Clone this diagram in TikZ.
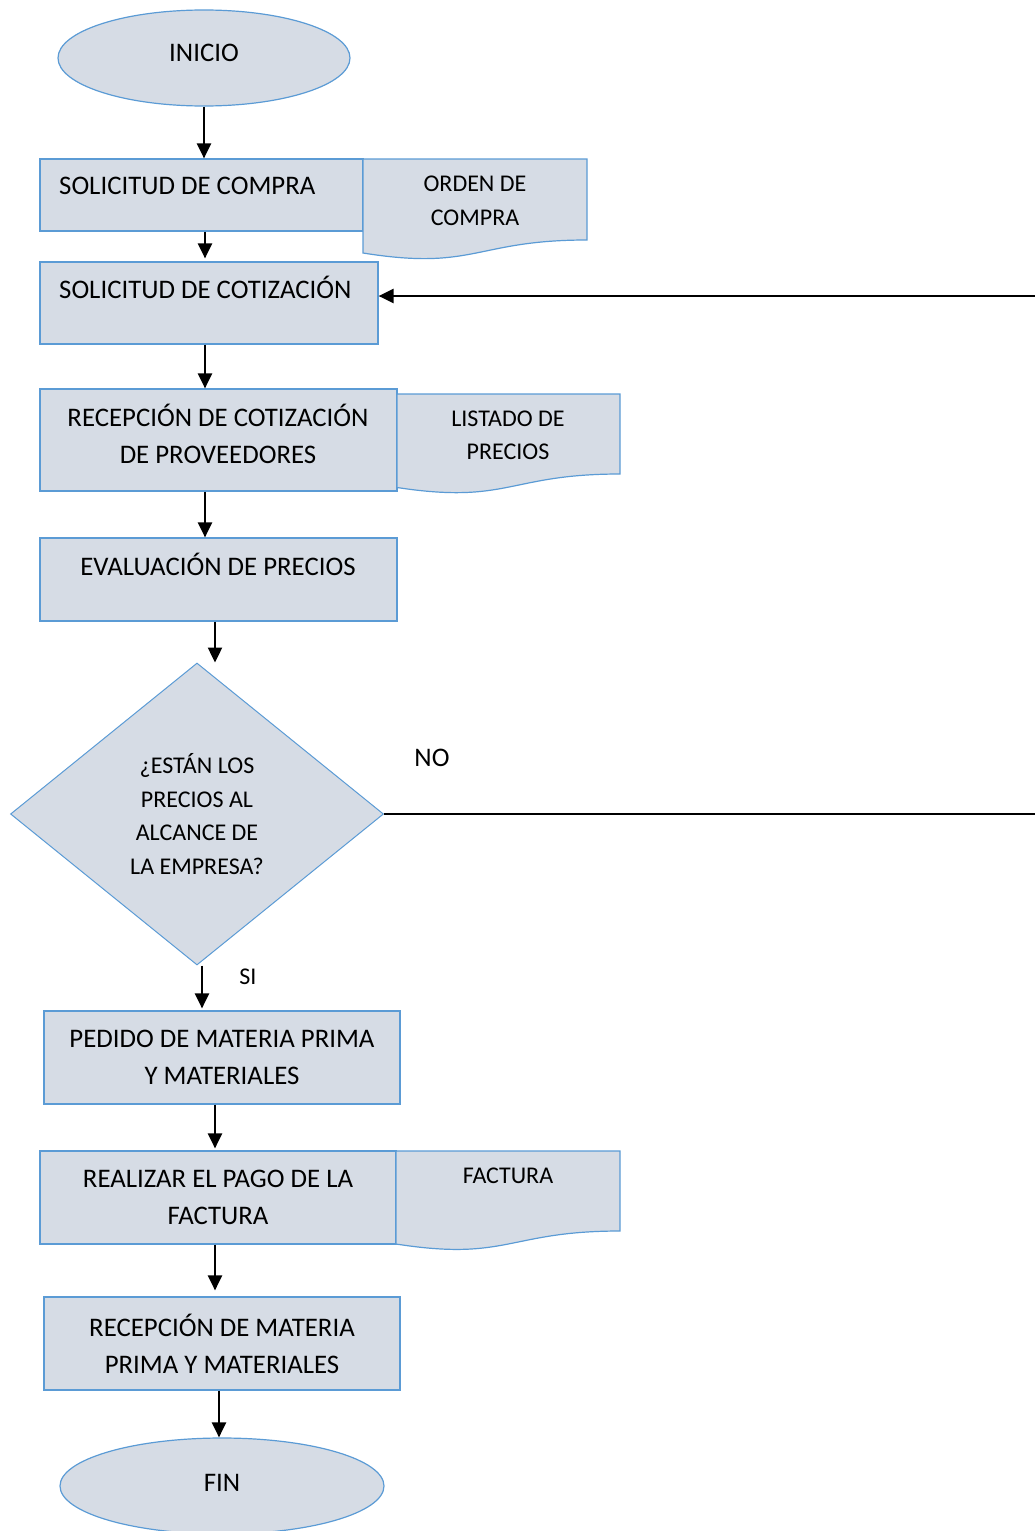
\documentclass[tikz,border=0pt]{standalone}
\usepackage{fontspec}
\setmainfont{Carlito}
\usetikzlibrary{shapes.geometric,arrows.meta}
\definecolor{relleno}{HTML}{D6DCE5}
\definecolor{borde}{HTML}{5B9BD5}

\begin{document}
\begin{tikzpicture}[x=1pt,y=-1pt,
        >={Triangle[length=15pt,width=14pt]},
        grande/.style={font=\fontsize{26.8}{37}\selectfont},
        chica/.style={font=\fontsize{24}{33.5}\selectfont},
        caja/.style={rectangle,draw=borde,fill=relleno,line width=1.2pt,inner sep=0pt,grande,align=center},
        terminal/.style={ellipse,draw=borde,fill=relleno,line width=1.2pt,inner sep=0pt,grande},
        decision/.style={diamond,draw=borde,fill=relleno,line width=1pt,inner sep=0pt,chica,align=center},
        documento/.style={draw=borde,fill=relleno,line width=1.2pt},
        texto/.style={grande,inner sep=0pt,align=center},
        flecha/.style={->,line width=2.4pt},
        linea/.style={line width=2.2pt}]
                \useasboundingbox (0,0) rectangle (1035,1531);
                % inicio y cajas de proceso
                \node[terminal,minimum width=292,minimum height=96] (inicio) at (204,58) {};
                \node[texto] (inicioT) at (204,53) {INICIO};
                \node[caja,minimum width=323,minimum height=72] (sc) at (201.5,195) {};
                \node[texto,anchor=west] (scT) at (59,186) {SOLICITUD DE COMPRA};
                \draw[documento] (363,159) -- (587,159) -- (587,240) .. controls (475,240) and (475,271) .. (363,253) -- cycle;
                \node[texto,chica] (ordenT) at (475,201) {ORDEN DE\\COMPRA};
                \node[caja,minimum width=338,minimum height=82] (cot) at (209,303) {};
                \node[texto,anchor=west] (cotT) at (59,287) {SOLICITUD DE COTIZACIÓN};
                \node[caja,minimum width=357,minimum height=102] (rec) at (218.5,440) {};
                \node[texto] (recT) at (218,433.5) {RECEPCIÓN DE COTIZACIÓN\\DE PROVEEDORES};
                \draw[documento] (397,394) -- (620,394) -- (620,474) .. controls (508.5,474) and (508.5,504.5) .. (397,487.5) -- cycle;
                \node[texto,chica] (listadoT) at (508,435.5) {LISTADO DE\\PRECIOS};
                \node[caja,minimum width=357,minimum height=83] (ev) at (218.5,579.5) {};
                \node[texto] (evT) at (218,564) {EVALUACIÓN DE PRECIOS};
                % decision
                \node[decision,minimum width=373,minimum height=302] (dec) at (197,814) {¿ESTÁN LOS\\PRECIOS AL\\ALCANCE DE\\LA EMPRESA?};
                \node[texto] (no) at (432,758) {NO};
                \node[texto,chica] (si) at (248,977) {SI};
                \node[caja,minimum width=356,minimum height=93] (ped) at (222,1057.5) {PEDIDO DE MATERIA PRIMA\\Y MATERIALES};
                \node[caja,minimum width=356,minimum height=93] (pago) at (218,1197.5) {REALIZAR EL PAGO DE LA\\FACTURA};
                \draw[documento] (396,1151) -- (620,1151) -- (620,1231) .. controls (508,1231) and (508,1261.5) .. (396,1244) -- cycle;
                \node[texto,chica] (facturaT) at (508,1176) {FACTURA};
                \node[caja,minimum width=356,minimum height=93] (rmp) at (222,1343.5) {RECEPCIÓN DE MATERIA\\PRIMA Y MATERIALES};
                \node[terminal,minimum width=324,minimum height=96] (fin) at (222,1486) {};
                \node[texto] (finT) at (222,1483) {FIN};
                % conectores
                \coordinate (der1) at (1035,296);
                \coordinate (der2) at (1035,814);
                \draw[flecha] (inicio.south) -- (inicio.south |- sc.north);
                \draw[flecha,shorten >=3pt] (205,0 |- sc.south) -- (205,0 |- cot.north);
                \draw[flecha] (der1) -- (der1 -| cot.east);
                \draw[flecha] (205,0 |- cot.south) -- (205,0 |- rec.north);
                \draw[flecha] (205,0 |- rec.south) -- (205,0 |- ev.north);
                \draw[flecha] (215,0 |- ev.south) -- (215,0 |- dec.north);
                \draw[linea] (dec.east) -- (der2);
                \draw[flecha,shorten >=2pt] (202,0 |- dec.south) -- (202,0 |- ped.north);
                \draw[flecha,shorten >=2pt] (215,0 |- ped.south) -- (215,0 |- pago.north);
                \draw[flecha,shorten >=6pt] (215,0 |- pago.south) -- (215,0 |- rmp.north);
                \draw[flecha] (219,0 |- rmp.south) -- (219,0 |- fin.north);
\end{tikzpicture}
\end{document}
